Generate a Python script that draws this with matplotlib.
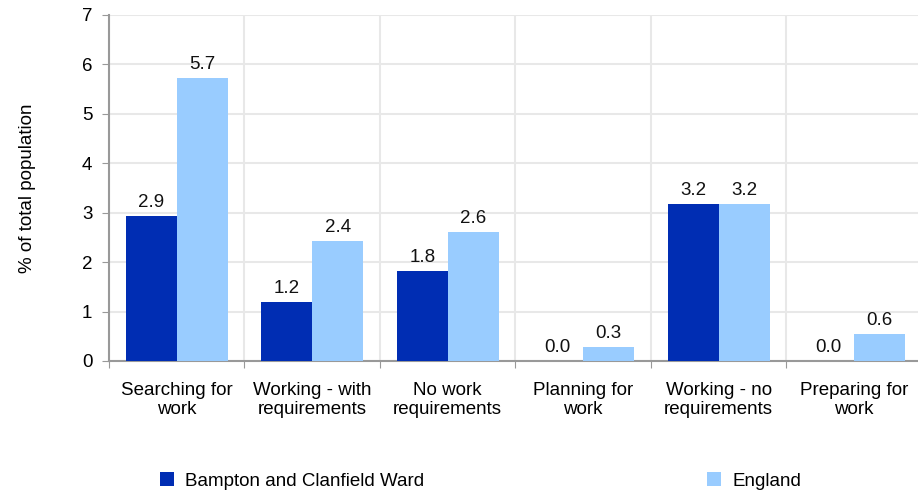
import matplotlib.pyplot as plt
import numpy as np

plt.rcParams["font.family"] = ["Liberation Sans", "DejaVu Sans"]

categories = [
    "Searching for\nwork",
    "Working - with\nrequirements",
    "No work\nrequirements",
    "Planning for\nwork",
    "Working - no\nrequirements",
    "Preparing for\nwork",
]
ward_name = "Bampton and Clanfield Ward"
england_name = "England"
ward = [2.93, 1.19, 1.82, 0.0, 3.18, 0.0]
england = [5.73, 2.43, 2.61, 0.28, 3.18, 0.55]

DARK = "#002db3"
LIGHT = "#99ccff"
GRID = "#e8e8e8"
AXIS = "#999999"
FS = 13.5

fig = plt.figure(figsize=(9.18, 4.91), dpi=100)
ax = fig.add_axes([0.1187, 0.2648, 0.8856, 0.7047])

x = np.arange(len(categories))
w = 0.376
b1 = ax.bar(x - w / 2, ward, w, color=DARK, label=ward_name, zorder=3)
b2 = ax.bar(x + w / 2, england, w, color=LIGHT, label=england_name, zorder=3)

for bars, vals in ((b1, ward), (b2, england)):
    for rect, v in zip(bars, vals):
        ax.text(rect.get_x() + rect.get_width() / 2, v + 0.1, f"{v:.1f}",
                ha="center", va="bottom", fontsize=FS, color="#111111")

ax.set_xlim(-0.5, len(categories) - 0.5)
ax.set_ylim(0, 7)
ax.set_yticks(range(0, 8))
ax.set_xticks(np.arange(-0.5, len(categories), 1.0), minor=False)
ax.set_xticklabels([])
ax.set_xticks(x, minor=True)
ax.set_xticklabels(categories, minor=True, fontsize=FS, linespacing=1.15)
ax.tick_params(axis="x", which="minor", length=0, pad=15)
ax.tick_params(axis="x", which="major", length=5, color=AXIS, direction="out")
ax.tick_params(axis="y", length=5, color=AXIS, labelsize=FS, pad=7)

ax.grid(True, which="major", color=GRID, linewidth=1.5, zorder=0)
for side in ("top", "right"):
    ax.spines[side].set_visible(False)
for side in ("left", "bottom"):
    ax.spines[side].set_color(AXIS)
    ax.spines[side].set_linewidth(1.5)

ax.set_ylabel("% of total population", fontsize=FS, labelpad=33)

leg_kw = dict(frameon=False, fontsize=FS, handlelength=0.75,
              handleheight=0.75, handletextpad=0.6, borderaxespad=0)
fig.legend(handles=[b1], loc="center left",
           bbox_to_anchor=(0.166, 0.02), **leg_kw)
fig.legend(handles=[b2], loc="center left",
           bbox_to_anchor=(0.762, 0.02), **leg_kw)

fig.savefig("out.png", dpi=100)
